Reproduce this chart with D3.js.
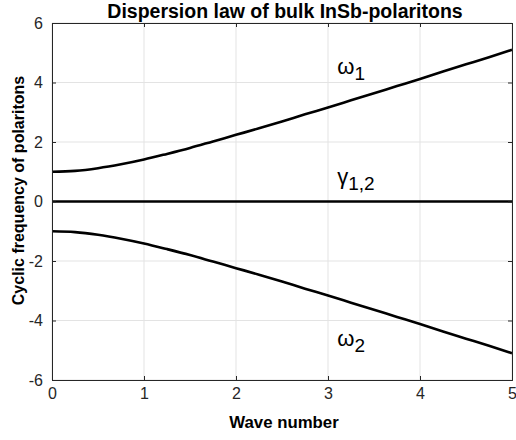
<!DOCTYPE html>
<html>
<head>
<meta charset="utf-8">
<script src="https://cdn.jsdelivr.net/npm/d3@7"></script>
<style>
    body { margin: 0; background: #fff; }
    svg { display: block; font-family: "Liberation Sans", Arial, Helvetica, sans-serif; }
    .grid line { stroke: #e3e3e3; stroke-width: 1; }
    .axis path, .axis line { stroke: #262626; }
    .axis text { font-size: 16px; fill: #262626; }
</style>
</head>
<body>
<div id="container"></div>
<script>
// wave number samples and the branches
const waveNumber = [0, 0.25, 0.5, 0.75, 1, 1.25, 1.5, 1.75, 2, 2.25, 2.5, 2.75, 3, 3.25, 3.5, 3.75, 4, 4.25, 4.5, 4.75, 5];
const omega1 = [1.00, 1.03, 1.12, 1.25, 1.41, 1.60, 1.80, 2.02, 2.24, 2.46, 2.69, 2.93, 3.16, 3.40, 3.64, 3.88, 4.12, 4.37, 4.61, 4.85, 5.10];
const omega2 = [-1.00, -1.03, -1.12, -1.25, -1.41, -1.60, -1.80, -2.02, -2.24, -2.46, -2.69, -2.93, -3.16, -3.40, -3.64, -3.88, -4.12, -4.37, -4.61, -4.85, -5.10];
const gamma12 = [0, 0, 0, 0, 0, 0, 0, 0, 0, 0, 0, 0, 0, 0, 0, 0, 0, 0, 0, 0, 0];

const xTicks = [0, 1, 2, 3, 4, 5];
const yTicks = [-6, -4, -2, 0, 2, 4, 6];

// curve labels: [main, subscript, x, y]
const labels = [
    ["\u03c9", "1", 3.1, 4.3],
    ["\u03b3", "1,2", 3.1, 0.6],
    ["\u03c9", "2", 3.1, -4.85]
];

const [svgW, svgH] = [516, 440];
const margin = {left: 52, right: 4, top: 23, bottom: 60};
const plotW = svgW - margin.left - margin.right;
const plotH = svgH - margin.top - margin.bottom;

const x = d3.scaleLinear().domain([0, 5]).range([0, plotW]);
const y = d3.scaleLinear().domain([-6, 6]).range([plotH, 0]);

const svg = d3.select("#container").append("svg")
    .attr("width", svgW).attr("height", svgH);

svg.append("text")
    .attr("x", 285).attr("y", 17.5)
    .attr("text-anchor", "middle")
    .style("font-size", "19.5px").style("font-weight", "bold")
    .text("Dispersion law of bulk InSb-polaritons");

const g = svg.append("g").attr("transform", "translate(" + margin.left + "," + margin.top + ")");

// grid
const grid = g.append("g").attr("class", "grid");
grid.selectAll("line.v").data(xTicks).enter().append("line")
    .attr("x1", d => x(d)).attr("x2", d => x(d)).attr("y1", 0).attr("y2", plotH);
grid.selectAll("line.h").data(yTicks).enter().append("line")
    .attr("x1", 0).attr("x2", plotW).attr("y1", d => y(d)).attr("y2", d => y(d));

// curves
const line = d3.line()
    .x((d, i) => x(waveNumber[i]))
    .y(d => y(d))
    .curve(d3.curveMonotoneX);

[omega1, gamma12, omega2].forEach(function (series) {
    g.append("path").datum(series)
        .attr("d", line)
        .attr("fill", "none")
        .attr("stroke", "#000")
        .attr("stroke-width", 2.6);
});

// axes, ticks inward on all sides like a boxed plot
g.append("g").attr("class", "axis")
    .attr("transform", "translate(0," + plotH + ")")
    .call(d3.axisBottom(x).tickValues(xTicks).tickSize(-4).tickPadding(8).tickFormat(d3.format("d")));
g.append("g").attr("class", "axis")
    .call(d3.axisTop(x).tickValues(xTicks).tickSize(-4).tickFormat(""));
g.append("g").attr("class", "axis")
    .call(d3.axisLeft(y).tickValues(yTicks).tickSize(-4).tickPadding(9).tickFormat(d => d < 0 ? "-" + Math.abs(d) : d));
g.append("g").attr("class", "axis")
    .attr("transform", "translate(" + plotW + ",0)")
    .call(d3.axisRight(y).tickValues(yTicks).tickSize(-4).tickFormat(""));

// curve labels
labels.forEach(function (l) {
    const t = g.append("text")
        .attr("x", x(l[2])).attr("y", y(l[3]))
        .style("font-size", "22px").attr("fill", "#000");
    t.append("tspan").text(l[0]);
    t.append("tspan").attr("dy", 6).style("font-size", "19px").text(l[1]);
});

// axis titles
svg.append("text")
    .attr("x", margin.left + plotW / 2 + 2).attr("y", 428)
    .attr("text-anchor", "middle")
    .style("font-size", "16.8px").style("font-weight", "bold")
    .text("Wave number");

svg.append("text")
    .attr("transform", "translate(24," + (margin.top + plotH / 2 - 11) + ") rotate(-90)")
    .attr("text-anchor", "middle")
    .style("font-size", "16px").style("font-weight", "bold")
    .text("Cyclic frequency of polaritons");
</script>
</body>
</html>
